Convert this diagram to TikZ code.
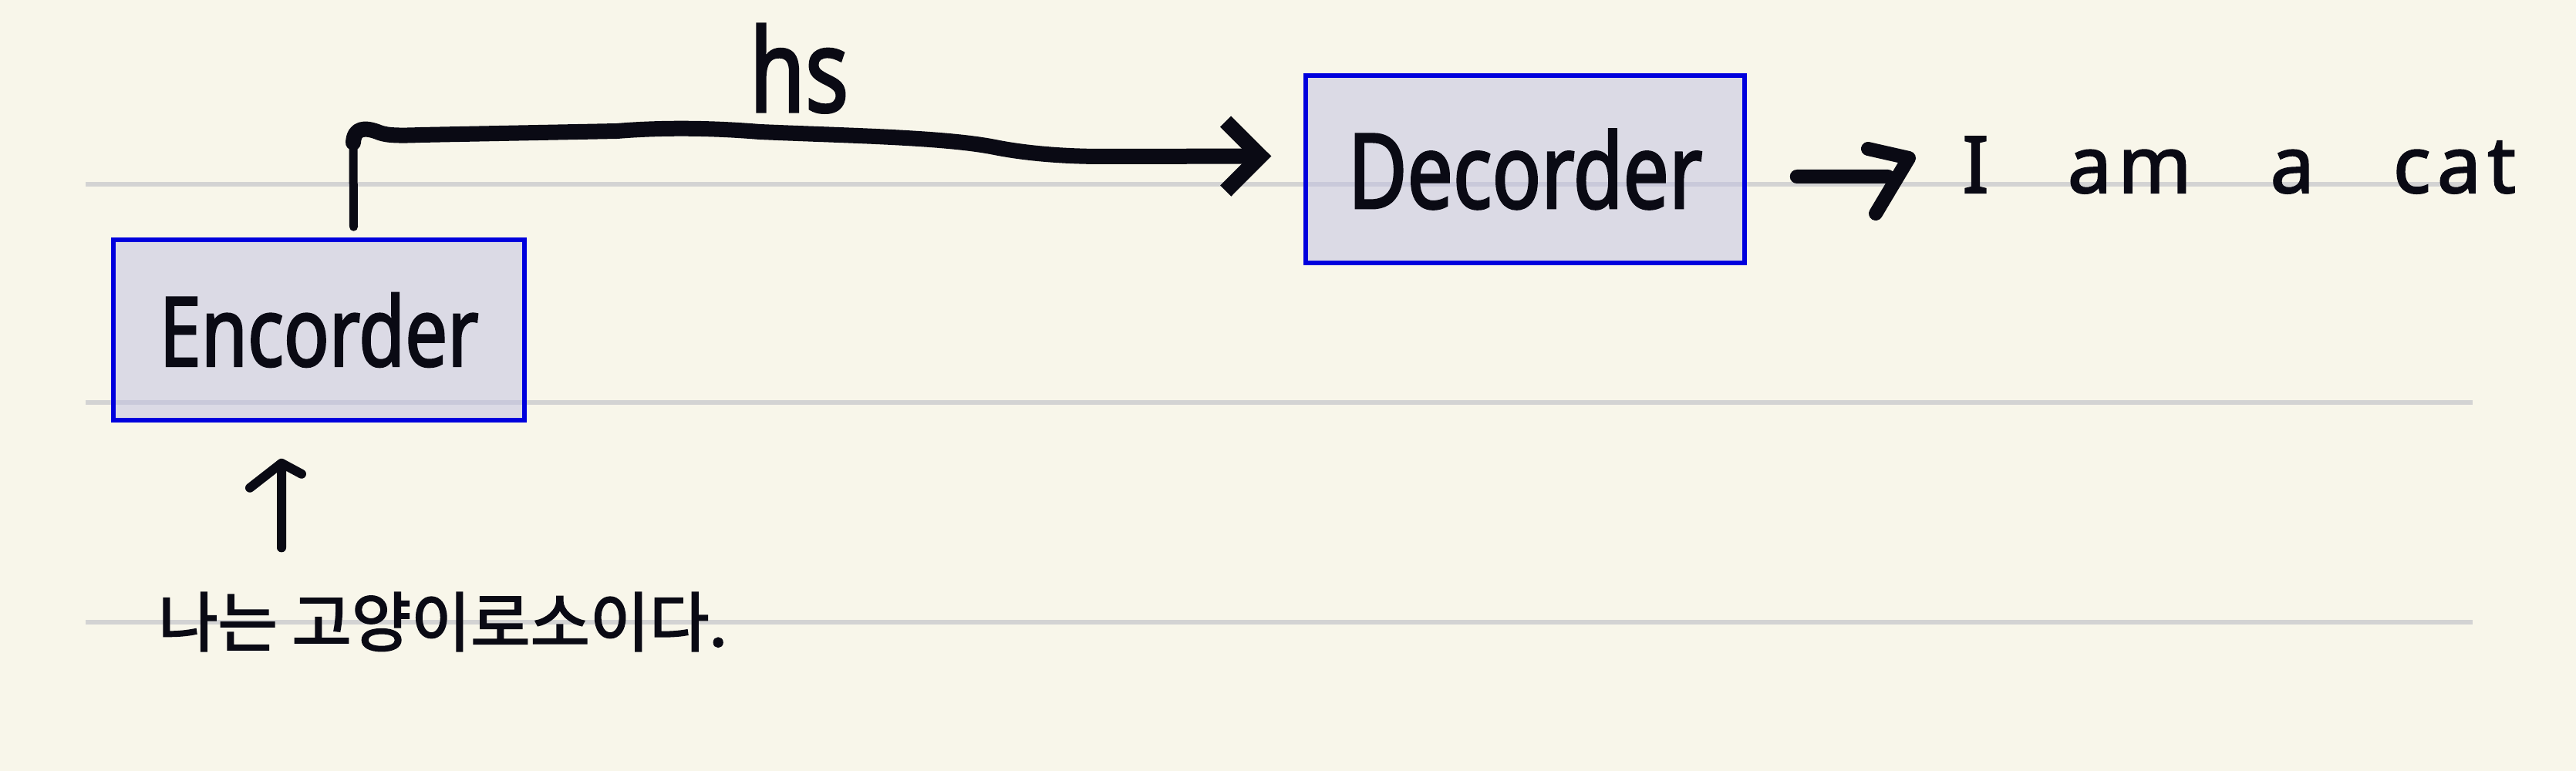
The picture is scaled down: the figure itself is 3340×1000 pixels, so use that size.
\documentclass[tikz,border=0pt]{standalone}
\usepackage{fontspec}
\usetikzlibrary{arrows.meta,calc}
\newfontfamily\handfont{Noto Sans}[FakeStretch=0.78,FakeBold=2]
\newfontfamily\handwide{Noto Sans}[LetterSpace=8,FakeBold=2]
\newfontfamily\korfont{Noto Sans CJK KR}[FakeBold=2.5]
\definecolor{bg}{HTML}{F8F6EA}
\definecolor{ruleg}{HTML}{D3D3D3}
\definecolor{boxblue}{HTML}{0000DD}
\definecolor{boxfill}{HTML}{C0C0E2}
\definecolor{ink}{HTML}{0A0A14}
\begin{document}
\begin{tikzpicture}[x=1pt,y=-1pt,
  rulestyle/.style={draw=ruleg,line width=6pt},
  box/.style={draw=boxblue,line width=5.5pt,fill=boxfill,fill opacity=0.5,draw opacity=1,text opacity=1,inner sep=0pt,text=ink},
  inkline/.style={draw=ink,line cap=round,line join=round},
  label/.style={inner sep=0pt,text=ink}]
\useasboundingbox (0,0) rectangle (3340,1000);
\fill[bg] (0,0) rectangle (3340,1000);
% ruled lines
\draw[rulestyle] (111,239) -- (3206,239);
\draw[rulestyle] (111,522) -- (3206,522);
\draw[rulestyle] (111,807) -- (3206,807);
% boxes
\node[box,minimum width=533pt,minimum height=234pt] (enc) at (413.5,428)
  {\fontsize{125}{125}\selectfont\handfont Encorder};
\node[box,minimum width=569pt,minimum height=243pt] (dec) at (1977.5,219.5)
  {\fontsize{135}{135}\selectfont\handfont Decorder};
% labels
\node[label,anchor=base] (hs) at (1036,145) {\fontsize{150}{150}\selectfont\handfont hs};
\node[label,anchor=base west] (out) at (2544,250)
  {\fontsize{102}{102}\selectfont\handwide\spaceskip=102pt I am a cat};
\node[label,anchor=base west] (kor) at (205,838)
  {\fontsize{84}{84}\selectfont\korfont 나는 고양이로소이다.};
% connectors
\coordinate (a1) at ($(enc.north)+(45,-14)$);
\coordinate (a9) at ($(dec.west)+(-42,-17)$);
\draw[inkline,line width=11pt] (a1) -- (458,185);
\draw[inkline,line width=20pt,-{Straight Barb[length=45pt,width=90pt]}] (458,185)
  .. controls (459,166) and (472,164) .. (492,172)
  .. controls (502,176) and (520,176) .. (545,175)
  -- (800,170)
  .. controls (860,165) and (925,166) .. (985,171)
  .. controls (1100,176) and (1225,178) .. (1290,191)
  .. controls (1330,199) and (1380,203) .. (1430,203)
  -- (a9);
\coordinate (ux) at (365,0);
\draw[inkline,line width=12pt]
  ([yshift=58pt]kor.north -| ux) -- ([yshift=-53pt]enc.south -| ux)
  -- ++(-41,32) ++(41,-32) -- ++(26,14);
\coordinate (oy) at (0,229);
\draw[inkline,line width=18pt]
  ([xshift=65pt]dec.east |- oy) -- ([xshift=-96pt]out.west |- oy)
  ++(-26,-36) -- ++(53,12) -- ++(-43,72);
\end{tikzpicture}
\end{document}
